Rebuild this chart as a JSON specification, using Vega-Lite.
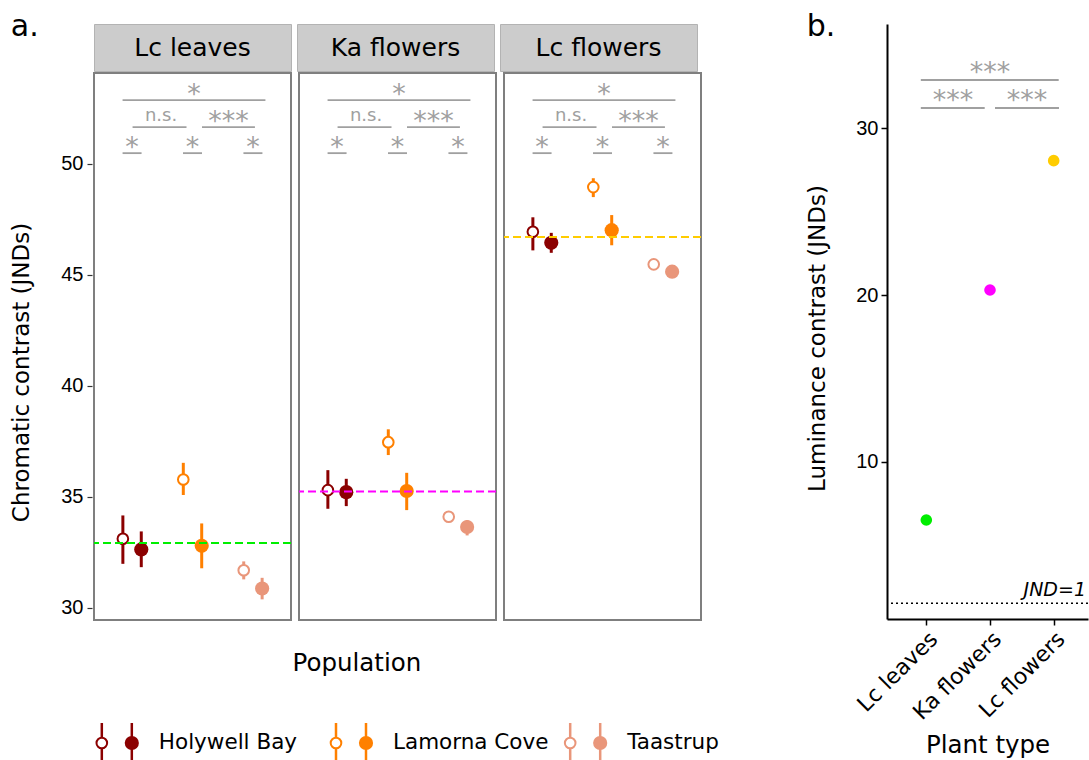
{
  "$schema": "https://vega.github.io/schema/vega-lite/v6.json",
  "padding": {"left": 10, "top": 11, "right": 0, "bottom": 0},
  "autosize": {"type": "pad"},
  "background": "white",
  "config": {
    "font": "DejaVu Sans",
    "view": {"stroke": null},
    "axis": {"grid": false},
    "title": {"fontWeight": "normal", "color": "black"}
  },
  "resolve": {"scale": {"color": "independent", "stroke": "independent"}},
  "datasets": {
    "a": [
      {"kind": "pt", "panel": "Lc leaves", "pop": "Holywell Bay", "type": "open", "v": 33.10, "lo": 31.97, "hi": 34.15},
      {"kind": "pt", "panel": "Lc leaves", "pop": "Holywell Bay", "type": "filled", "v": 32.62, "lo": 31.82, "hi": 33.43},
      {"kind": "pt", "panel": "Lc leaves", "pop": "Lamorna Cove", "type": "open", "v": 35.77, "lo": 35.07, "hi": 36.52},
      {"kind": "pt", "panel": "Lc leaves", "pop": "Lamorna Cove", "type": "filled", "v": 32.78, "lo": 31.77, "hi": 33.79},
      {"kind": "pt", "panel": "Lc leaves", "pop": "Taastrup", "type": "open", "v": 31.68, "lo": 31.27, "hi": 32.08},
      {"kind": "pt", "panel": "Lc leaves", "pop": "Taastrup", "type": "filled", "v": 30.86, "lo": 30.37, "hi": 31.34},
      {"kind": "pt", "panel": "Ka flowers", "pop": "Holywell Bay", "type": "open", "v": 35.29, "lo": 34.45, "hi": 36.19},
      {"kind": "pt", "panel": "Ka flowers", "pop": "Holywell Bay", "type": "filled", "v": 35.20, "lo": 34.57, "hi": 35.80},
      {"kind": "pt", "panel": "Ka flowers", "pop": "Lamorna Cove", "type": "open", "v": 37.45, "lo": 36.87, "hi": 38.03},
      {"kind": "pt", "panel": "Ka flowers", "pop": "Lamorna Cove", "type": "filled", "v": 35.25, "lo": 34.39, "hi": 36.07},
      {"kind": "pt", "panel": "Ka flowers", "pop": "Taastrup", "type": "open", "v": 34.09, "lo": 33.96, "hi": 34.22},
      {"kind": "pt", "panel": "Ka flowers", "pop": "Taastrup", "type": "filled", "v": 33.63, "lo": 33.25, "hi": 33.94},
      {"kind": "pt", "panel": "Lc flowers", "pop": "Holywell Bay", "type": "open", "v": 46.93, "lo": 46.09, "hi": 47.58},
      {"kind": "pt", "panel": "Lc flowers", "pop": "Holywell Bay", "type": "filled", "v": 46.43, "lo": 45.98, "hi": 46.88},
      {"kind": "pt", "panel": "Lc flowers", "pop": "Lamorna Cove", "type": "open", "v": 48.94, "lo": 48.49, "hi": 49.34},
      {"kind": "pt", "panel": "Lc flowers", "pop": "Lamorna Cove", "type": "filled", "v": 47.00, "lo": 46.32, "hi": 47.68},
      {"kind": "pt", "panel": "Lc flowers", "pop": "Taastrup", "type": "open", "v": 45.46, "lo": 45.36, "hi": 45.56},
      {"kind": "pt", "panel": "Lc flowers", "pop": "Taastrup", "type": "filled", "v": 45.13, "lo": 45.04, "hi": 45.22},
      {"kind": "ref", "panel": "Lc leaves", "v": 32.91},
      {"kind": "ref", "panel": "Ka flowers", "v": 35.23},
      {"kind": "ref", "panel": "Lc flowers", "v": 46.69},
      {"kind": "sig", "panel": "Lc leaves", "btype": "top", "from": "Holywell Bay", "to": "Taastrup", "v": 52.86, "label": "*"},
      {"kind": "sig", "panel": "Lc leaves", "btype": "left", "from": "Holywell Bay", "to": "Lamorna Cove", "v": 51.64, "label": "n.s."},
      {"kind": "sig", "panel": "Lc leaves", "btype": "right", "from": "Lamorna Cove", "to": "Taastrup", "v": 51.64, "label": "***"},
      {"kind": "sig", "panel": "Lc leaves", "btype": "pair", "from": "Holywell Bay", "to": "Holywell Bay", "v": 50.47, "label": "*"},
      {"kind": "sig", "panel": "Lc leaves", "btype": "pair", "from": "Lamorna Cove", "to": "Lamorna Cove", "v": 50.47, "label": "*"},
      {"kind": "sig", "panel": "Lc leaves", "btype": "pair", "from": "Taastrup", "to": "Taastrup", "v": 50.47, "label": "*"},
      {"kind": "sig", "panel": "Ka flowers", "btype": "top", "from": "Holywell Bay", "to": "Taastrup", "v": 52.86, "label": "*"},
      {"kind": "sig", "panel": "Ka flowers", "btype": "left", "from": "Holywell Bay", "to": "Lamorna Cove", "v": 51.64, "label": "n.s."},
      {"kind": "sig", "panel": "Ka flowers", "btype": "right", "from": "Lamorna Cove", "to": "Taastrup", "v": 51.64, "label": "***"},
      {"kind": "sig", "panel": "Ka flowers", "btype": "pair", "from": "Holywell Bay", "to": "Holywell Bay", "v": 50.47, "label": "*"},
      {"kind": "sig", "panel": "Ka flowers", "btype": "pair", "from": "Lamorna Cove", "to": "Lamorna Cove", "v": 50.47, "label": "*"},
      {"kind": "sig", "panel": "Ka flowers", "btype": "pair", "from": "Taastrup", "to": "Taastrup", "v": 50.47, "label": "*"},
      {"kind": "sig", "panel": "Lc flowers", "btype": "top", "from": "Holywell Bay", "to": "Taastrup", "v": 52.86, "label": "*"},
      {"kind": "sig", "panel": "Lc flowers", "btype": "left", "from": "Holywell Bay", "to": "Lamorna Cove", "v": 51.64, "label": "n.s."},
      {"kind": "sig", "panel": "Lc flowers", "btype": "right", "from": "Lamorna Cove", "to": "Taastrup", "v": 51.64, "label": "***"},
      {"kind": "sig", "panel": "Lc flowers", "btype": "pair", "from": "Holywell Bay", "to": "Holywell Bay", "v": 50.47, "label": "*"},
      {"kind": "sig", "panel": "Lc flowers", "btype": "pair", "from": "Lamorna Cove", "to": "Lamorna Cove", "v": 50.47, "label": "*"},
      {"kind": "sig", "panel": "Lc flowers", "btype": "pair", "from": "Taastrup", "to": "Taastrup", "v": 50.47, "label": "*"}
    ],
    "b": [
      {"kind": "pt", "plant": "Lc leaves", "v": 6.50},
      {"kind": "pt", "plant": "Ka flowers", "v": 20.30},
      {"kind": "pt", "plant": "Lc flowers", "v": 28.06},
      {"kind": "thr", "v": 1.5, "label": "JND=1"},
      {"kind": "sig", "btype": "top", "from": "Lc leaves", "to": "Lc flowers", "v": 32.9, "label": "***"},
      {"kind": "sig", "btype": "left", "from": "Lc leaves", "to": "Ka flowers", "v": 31.22, "label": "***"},
      {"kind": "sig", "btype": "right", "from": "Ka flowers", "to": "Lc flowers", "v": 31.22, "label": "***"}
    ]
  },
  "hconcat": [
    {
      "title": {"text": "a.", "anchor": "start", "fontSize": 30, "offset": -18, "frame": "bounds"},
      "spacing": 45,
      "vconcat": [
        {
          "spacing": 0,
          "vconcat": [
            {
              "data": {"name": "a"},
              "transform": [{"filter": "datum.kind === 'ref'"}],
              "facet": {"column": {"field": "panel", "type": "nominal", "sort": ["Lc leaves", "Ka flowers", "Lc flowers"], "header": null}},
              "spacing": 4,
              "spec": {
                "width": 197,
                "height": 47,
                "view": {"fill": "#CCCCCC", "stroke": "#B3B3B3", "strokeWidth": 1},
                "mark": {"type": "text", "fontSize": 25, "color": "black", "font": "DejaVu Sans", "baseline": "middle"},
                "encoding": {
                  "text": {"field": "panel", "type": "nominal"},
                  "y": {"datum": 0.5, "type": "quantitative", "scale": {"domain": [0, 1]}, "title": "I",
                    "axis": {"values": [0.5], "labelExpr": "'50'", "domain": false, "tickSize": 5, "tickColor": "transparent", "labelFontSize": 20, "labelFont": "Liberation Sans", "labelColor": "transparent", "labelPadding": 4, "titleFontSize": 23, "titleFont": "DejaVu Sans", "titleColor": "transparent", "titlePadding": 27}}
                }
              }
            },
            {
              "data": {"name": "a"},
              "facet": {"column": {"field": "panel", "type": "nominal", "sort": ["Lc leaves", "Ka flowers", "Lc flowers"], "header": null}},
              "spacing": 4,
              "title": {"text": "Population", "orient": "bottom", "fontSize": 24.5, "offset": 31, "anchor": "middle"},
              "spec": {
                "width": 197,
                "height": 547,
                "view": {"stroke": "#7F7F7F", "strokeWidth": 2, "fill": "white"},
                "layer": [
                  {
                    "transform": [{"filter": "datum.kind === 'pt' && datum.type === 'open'"}],
                    "mark": {"type": "rule", "strokeWidth": 3, "xOffset": -9.2},
                    "encoding": {
                      "x": {"field": "pop", "type": "nominal", "scale": {"type": "point", "padding": 0.63, "domain": ["Holywell Bay", "Lamorna Cove", "Taastrup"]}, "axis": null},
                      "y": {"field": "lo", "type": "quantitative", "scale": {"domain": [29.44, 54.08], "nice": false, "zero": false},
                        "title": "Chromatic contrast (JNDs)",
                        "axis": {"values": [30, 35, 40, 45, 50], "domain": false, "tickSize": 5, "tickColor": "#333333", "tickWidth": 1.2, "labelFontSize": 20, "labelFont": "Liberation Sans", "labelColor": "black", "labelPadding": 4, "titleFontSize": 23, "titleFont": "DejaVu Sans", "titleFontWeight": "normal", "titleColor": "black", "titlePadding": 27, "titleY": 299}},
                      "y2": {"field": "hi"},
                      "color": {"field": "pop", "type": "nominal", "scale": {"domain": ["Holywell Bay", "Lamorna Cove", "Taastrup"], "range": ["#8B0000", "#FF8000", "#E9967A"]}, "legend": null}
                    }
                  },
                  {
                    "transform": [{"filter": "datum.kind === 'pt' && datum.type === 'filled'"}],
                    "mark": {"type": "rule", "strokeWidth": 3, "xOffset": 9.2},
                    "encoding": {
                      "x": {"field": "pop", "type": "nominal", "axis": null},
                      "y": {"field": "lo", "type": "quantitative"},
                      "y2": {"field": "hi"},
                      "color": {"field": "pop", "type": "nominal", "legend": null}
                    }
                  },
                  {
                    "transform": [{"filter": "datum.kind === 'pt' && datum.type === 'open'"}],
                    "mark": {"type": "point", "shape": "circle", "filled": false, "fill": "white", "strokeWidth": 2, "size": 113, "opacity": 1, "xOffset": -9.2},
                    "encoding": {
                      "x": {"field": "pop", "type": "nominal", "axis": null},
                      "y": {"field": "v", "type": "quantitative"},
                      "color": {"field": "pop", "type": "nominal", "legend": null}
                    }
                  },
                  {
                    "transform": [{"filter": "datum.kind === 'pt' && datum.type === 'filled'"}],
                    "mark": {"type": "point", "shape": "circle", "filled": true, "size": 201, "opacity": 1, "xOffset": 9.2},
                    "encoding": {
                      "x": {"field": "pop", "type": "nominal", "axis": null},
                      "y": {"field": "v", "type": "quantitative"},
                      "color": {"field": "pop", "type": "nominal", "legend": null}
                    }
                  },
                  {
                    "transform": [{"filter": "datum.kind === 'ref'"}],
                    "mark": {"type": "rule", "strokeWidth": 2, "strokeDash": [8, 4]},
                    "encoding": {
                      "y": {"field": "v", "type": "quantitative"},
                      "stroke": {"field": "panel", "type": "nominal", "scale": {"domain": ["Lc leaves", "Ka flowers", "Lc flowers"], "range": ["#00EE00", "#FF00FF", "#FFCC00"]}, "legend": null}
                    }
                  },
                  {
                    "transform": [{"filter": "datum.kind === 'sig' && datum.btype === 'top'"}],
                    "mark": {"type": "rule", "color": "#A0A0A0", "strokeWidth": 1.8, "xOffset": -9.5, "x2Offset": 12.5},
                    "encoding": {
                      "x": {"field": "from", "type": "nominal", "axis": null},
                      "x2": {"field": "to"},
                      "y": {"field": "v", "type": "quantitative"}
                    }
                  },
                  {
                    "transform": [{"filter": "datum.kind === 'sig' && datum.btype === 'left'"}],
                    "mark": {"type": "rule", "color": "#A0A0A0", "strokeWidth": 1.8, "xOffset": 0.5, "x2Offset": -6},
                    "encoding": {
                      "x": {"field": "from", "type": "nominal", "axis": null},
                      "x2": {"field": "to"},
                      "y": {"field": "v", "type": "quantitative"}
                    }
                  },
                  {
                    "transform": [{"filter": "datum.kind === 'sig' && datum.btype === 'right'"}],
                    "mark": {"type": "rule", "color": "#A0A0A0", "strokeWidth": 1.8, "xOffset": 9.5, "x2Offset": 2},
                    "encoding": {
                      "x": {"field": "from", "type": "nominal", "axis": null},
                      "x2": {"field": "to"},
                      "y": {"field": "v", "type": "quantitative"}
                    }
                  },
                  {
                    "transform": [{"filter": "datum.kind === 'sig' && datum.btype === 'pair'"}],
                    "mark": {"type": "rule", "color": "#A0A0A0", "strokeWidth": 1.8, "xOffset": -9.5, "x2Offset": 9.5},
                    "encoding": {
                      "x": {"field": "from", "type": "nominal", "axis": null},
                      "x2": {"field": "to"},
                      "y": {"field": "v", "type": "quantitative"}
                    }
                  },
                  {
                    "transform": [{"filter": "datum.kind === 'sig' && datum.btype === 'top'"}],
                    "mark": {"type": "text", "color": "#A0A0A0", "fontSize": 27, "baseline": "alphabetic", "align": "center", "xOffset": 62, "dy": 3},
                    "encoding": {
                      "x": {"field": "from", "type": "nominal", "axis": null},
                      "y": {"field": "v", "type": "quantitative"},
                      "text": {"field": "label"}
                    }
                  },
                  {
                    "transform": [{"filter": "datum.kind === 'sig' && datum.btype === 'left'"}],
                    "mark": {"type": "text", "color": "#A0A0A0", "fontSize": 18, "baseline": "alphabetic", "align": "center", "xOffset": 29, "dy": -6},
                    "encoding": {
                      "x": {"field": "from", "type": "nominal", "axis": null},
                      "y": {"field": "v", "type": "quantitative"},
                      "text": {"field": "label"}
                    }
                  },
                  {
                    "transform": [{"filter": "datum.kind === 'sig' && datum.btype === 'right'"}],
                    "mark": {"type": "text", "color": "#A0A0A0", "fontSize": 27, "baseline": "alphabetic", "align": "center", "xOffset": 36, "dy": 3},
                    "encoding": {
                      "x": {"field": "from", "type": "nominal", "axis": null},
                      "y": {"field": "v", "type": "quantitative"},
                      "text": {"field": "label"}
                    }
                  },
                  {
                    "transform": [{"filter": "datum.kind === 'sig' && datum.btype === 'pair'"}],
                    "mark": {"type": "text", "color": "#A0A0A0", "fontSize": 27, "baseline": "alphabetic", "align": "center", "dy": 3},
                    "encoding": {
                      "x": {"field": "from", "type": "nominal", "axis": null},
                      "y": {"field": "v", "type": "quantitative"},
                      "text": {"field": "label"}
                    }
                  }
                ]
              }
            }
          ]
        },
        {
          "data": {"name": "a"},
          "transform": [{"filter": "datum.kind === 'pt' && datum.panel === 'Lc leaves'"}],
          "width": 514,
          "height": 40,
          "layer": [
            {
              "transform": [{"filter": "datum.type === 'open'"}],
              "mark": {"type": "rule", "strokeWidth": 2.5, "xOffset": -15},
              "encoding": {
                "x": {"field": "pop", "type": "nominal", "scale": {"type": "point", "padding": 0.0974, "domain": ["Holywell Bay", "Lamorna Cove", "Taastrup"]}, "axis": null},
                "color": {"field": "pop", "type": "nominal", "scale": {"domain": ["Holywell Bay", "Lamorna Cove", "Taastrup"], "range": ["#8B0000", "#FF8000", "#E9967A"]}, "legend": null}
              }
            },
            {
              "transform": [{"filter": "datum.type === 'filled'"}],
              "mark": {"type": "rule", "strokeWidth": 2.5, "xOffset": 15},
              "encoding": {
                "x": {"field": "pop", "type": "nominal", "axis": null},
                "color": {"field": "pop", "type": "nominal", "legend": null}
              }
            },
            {
              "transform": [{"filter": "datum.type === 'open'"}],
              "mark": {"type": "point", "shape": "circle", "filled": false, "fill": "white", "strokeWidth": 2, "size": 113, "opacity": 1, "xOffset": -15},
              "encoding": {
                "x": {"field": "pop", "type": "nominal", "axis": null},
                "color": {"field": "pop", "type": "nominal", "legend": null}
              }
            },
            {
              "transform": [{"filter": "datum.type === 'filled'"}],
              "mark": {"type": "point", "shape": "circle", "filled": true, "size": 201, "opacity": 1, "xOffset": 15},
              "encoding": {
                "x": {"field": "pop", "type": "nominal", "axis": null},
                "color": {"field": "pop", "type": "nominal", "legend": null}
              }
            },
            {
              "transform": [{"filter": "datum.type === 'filled'"}],
              "mark": {"type": "text", "align": "left", "baseline": "middle", "fontSize": 21.5, "color": "black", "xOffset": 42},
              "encoding": {
                "x": {"field": "pop", "type": "nominal", "axis": null},
                "text": {"field": "pop", "type": "nominal"}
              }
            }
          ]
        }
      ]
    },
    {
      "data": {"name": "b"},
      "title": {"text": "b.", "anchor": "start", "fontSize": 30, "offset": -18, "frame": "bounds"},
      "width": 201,
      "height": 595,
      "layer": [
        {
          "transform": [{"filter": "datum.kind === 'pt'"}],
          "mark": {"type": "point", "shape": "circle", "filled": true, "size": 135, "opacity": 1},
          "encoding": {
            "x": {"field": "plant", "type": "nominal", "title": "Plant type",
              "scale": {"type": "point", "padding": 0.578, "align": 0.534, "domain": ["Lc leaves", "Ka flowers", "Lc flowers"]},
              "axis": {"labelAngle": -45, "labelFontSize": 22, "labelFont": "DejaVu Sans", "labelColor": "black", "tickColor": "black", "tickSize": 6, "tickWidth": 1.5, "domainColor": "black", "domainWidth": 2, "titleFontSize": 24.5, "titleFontWeight": "normal", "titleColor": "black", "titlePadding": 10, "labelPadding": 3}},
            "y": {"field": "v", "type": "quantitative", "title": "Luminance contrast (JNDs)",
              "scale": {"domain": [0.56, 36.26], "nice": false, "zero": false},
              "axis": {"values": [10, 20, 30], "domainColor": "black", "domainWidth": 2, "tickColor": "black", "tickSize": 6, "tickWidth": 1.5, "labelFontSize": 20, "labelFont": "Liberation Sans", "labelColor": "black", "labelPadding": 3, "titleFontSize": 23, "titleFont": "DejaVu Sans", "titleFontWeight": "normal", "titleColor": "black", "titlePadding": 26, "titleY": 314}},
            "color": {"field": "plant", "type": "nominal", "scale": {"domain": ["Lc leaves", "Ka flowers", "Lc flowers"], "range": ["#00EE00", "#FF00FF", "#FFCC00"]}, "legend": null}
          }
        },
        {
          "transform": [{"filter": "datum.kind === 'thr'"}],
          "mark": {"type": "rule", "color": "black", "strokeWidth": 1.5, "strokeDash": [2, 3]},
          "encoding": {"y": {"field": "v", "type": "quantitative"}}
        },
        {
          "transform": [{"filter": "datum.kind === 'thr'"}],
          "mark": {"type": "text", "fontStyle": "italic", "fontSize": 19, "align": "right", "baseline": "alphabetic", "dy": -7, "dx": -2, "color": "black"},
          "encoding": {
            "x": {"value": "width"},
            "y": {"field": "v", "type": "quantitative"},
            "text": {"field": "label"}
          }
        },
        {
          "transform": [{"filter": "datum.kind === 'sig' && datum.btype === 'top'"}],
          "mark": {"type": "rule", "color": "#A0A0A0", "strokeWidth": 1.8, "xOffset": -5.5, "x2Offset": 5},
          "encoding": {"x": {"field": "from", "type": "nominal"}, "x2": {"field": "to"}, "y": {"field": "v", "type": "quantitative"}}
        },
        {
          "transform": [{"filter": "datum.kind === 'sig' && datum.btype === 'left'"}],
          "mark": {"type": "rule", "color": "#A0A0A0", "strokeWidth": 1.8, "xOffset": -5.5, "x2Offset": -5.3},
          "encoding": {"x": {"field": "from", "type": "nominal"}, "x2": {"field": "to"}, "y": {"field": "v", "type": "quantitative"}}
        },
        {
          "transform": [{"filter": "datum.kind === 'sig' && datum.btype === 'right'"}],
          "mark": {"type": "rule", "color": "#A0A0A0", "strokeWidth": 1.8, "xOffset": 5, "x2Offset": 5.3},
          "encoding": {"x": {"field": "from", "type": "nominal"}, "x2": {"field": "to"}, "y": {"field": "v", "type": "quantitative"}}
        },
        {
          "transform": [{"filter": "datum.kind === 'sig' && datum.btype === 'top'"}],
          "mark": {"type": "text", "color": "#A0A0A0", "fontSize": 27, "baseline": "alphabetic", "align": "center", "xOffset": 63.7, "dy": 1},
          "encoding": {"x": {"field": "from", "type": "nominal"}, "y": {"field": "v", "type": "quantitative"}, "text": {"field": "label"}}
        },
        {
          "transform": [{"filter": "datum.kind === 'sig' && datum.btype === 'left'"}],
          "mark": {"type": "text", "color": "#A0A0A0", "fontSize": 27, "baseline": "alphabetic", "align": "center", "xOffset": 26.7, "dy": 1},
          "encoding": {"x": {"field": "from", "type": "nominal"}, "y": {"field": "v", "type": "quantitative"}, "text": {"field": "label"}}
        },
        {
          "transform": [{"filter": "datum.kind === 'sig' && datum.btype === 'right'"}],
          "mark": {"type": "text", "color": "#A0A0A0", "fontSize": 27, "baseline": "alphabetic", "align": "center", "xOffset": 37, "dy": 1},
          "encoding": {"x": {"field": "from", "type": "nominal"}, "y": {"field": "v", "type": "quantitative"}, "text": {"field": "label"}}
        }
      ]
    }
  ],
  "spacing": 87
}
